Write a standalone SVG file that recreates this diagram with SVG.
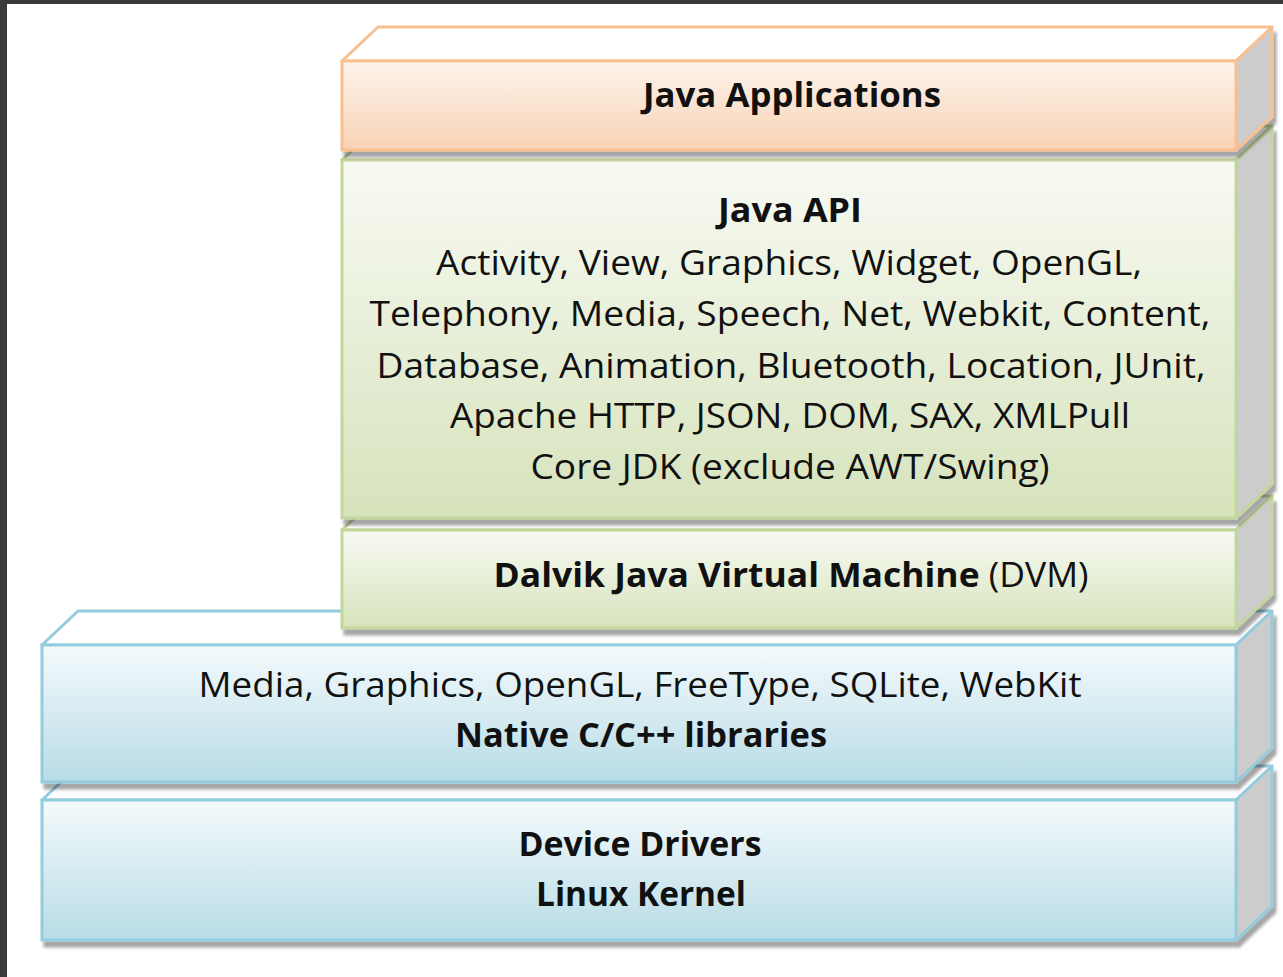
<svg xmlns="http://www.w3.org/2000/svg" width="1283" height="977" viewBox="0 0 1283 977">
<defs>
<linearGradient id="gOr" x1="0" y1="0" x2="0" y2="1"><stop offset="0" stop-color="#fdf3ec"/><stop offset="1" stop-color="#f8d3b5"/></linearGradient>
<linearGradient id="gGr" x1="0" y1="0" x2="0" y2="1"><stop offset="0" stop-color="#f8faf3"/><stop offset="1" stop-color="#d6e3bc"/></linearGradient>
<linearGradient id="gBl" x1="0" y1="0" x2="0" y2="1"><stop offset="0" stop-color="#f4fafc"/><stop offset="1" stop-color="#b8dce6"/></linearGradient>
<filter id="sh" x="-5%" y="-10%" width="110%" height="130%"><feDropShadow dx="3" dy="6" stdDeviation="1.5" flood-color="#000" flood-opacity="0.35"/></filter>
</defs>
<style>
.or{stroke:#f9bf8f}.gr{stroke:#c3d69b}.bl{stroke:#93cddd}
.top{fill:#ffffff;stroke-width:3;stroke-linejoin:round}
.side{fill:#cccccc;stroke-width:3;stroke-linejoin:round}
.front{stroke-width:3}
text{font-family:"Open Sans","Noto Sans","DejaVu Sans",sans-serif;font-size:34px;fill:#111;text-anchor:middle}
.b{font-weight:bold}
</style>
<rect x="0" y="0" width="1283" height="977" fill="#ffffff"/>
<rect x="0" y="0" width="1283" height="4" fill="#3a3a3a"/>
<rect x="0" y="0" width="7" height="977" fill="#3a3a3a"/>

<g id="device-drivers">
<polygon class="top bl" points="42,800 78,766 1272,766 1236,800"/>
<g filter="url(#sh)">
<polygon class="side bl" points="1236,800 1272,766 1272,906 1236,940"/>
<rect class="front bl" x="42" y="800" width="1194" height="140" fill="url(#gBl)"/>
</g>
<text class="b" x="640" y="856" textLength="243" lengthAdjust="spacingAndGlyphs">Device Drivers</text>
<text class="b" x="641" y="906" textLength="210" lengthAdjust="spacingAndGlyphs">Linux Kernel</text>
</g>

<g id="native-libs">
<polygon class="top bl" points="42,645 78,611 1272,611 1236,645"/>
<g filter="url(#sh)">
<polygon class="side bl" points="1236,645 1272,611 1272,748 1236,782"/>
<rect class="front bl" x="42" y="645" width="1194" height="137" fill="url(#gBl)"/>
</g>
<text x="640" y="697" textLength="883" lengthAdjust="spacingAndGlyphs">Media, Graphics, OpenGL, FreeType, SQLite, WebKit</text>
<text class="b" x="641" y="747" textLength="372" lengthAdjust="spacingAndGlyphs">Native C/C++ libraries</text>
</g>

<g id="dvm">
<polygon class="top gr" points="342,530 378,496 1272,496 1236,530"/>
<g filter="url(#sh)">
<polygon class="side gr" points="1236,530 1272,496 1272,594 1236,628"/>
<rect class="front gr" x="342" y="530" width="894" height="98" fill="url(#gGr)"/>
</g>
<text x="791" y="587" textLength="595" lengthAdjust="spacingAndGlyphs"><tspan class="b">Dalvik Java Virtual Machine</tspan> (DVM)</text>
</g>

<g id="java-api">
<polygon class="top gr" points="342,160 378,126 1272,126 1236,160"/>
<g filter="url(#sh)">
<polygon class="side gr" points="1236,160 1272,126 1272,484 1236,518"/>
<rect class="front gr" x="342" y="160" width="894" height="358" fill="url(#gGr)"/>
</g>
<text class="b" x="790" y="222" textLength="144" lengthAdjust="spacingAndGlyphs">Java API</text>
<text x="789" y="275" textLength="706" lengthAdjust="spacingAndGlyphs">Activity, View, Graphics, Widget, OpenGL,</text>
<text x="790" y="326" textLength="841" lengthAdjust="spacingAndGlyphs">Telephony, Media, Speech, Net, Webkit, Content,</text>
<text x="791" y="378" textLength="829" lengthAdjust="spacingAndGlyphs">Database, Animation, Bluetooth, Location, JUnit,</text>
<text x="790" y="428" textLength="680" lengthAdjust="spacingAndGlyphs">Apache HTTP, JSON, DOM, SAX, XMLPull</text>
<text x="790" y="479" textLength="519" lengthAdjust="spacingAndGlyphs">Core JDK (exclude AWT/Swing)</text>
</g>

<g id="java-apps">
<polygon class="top or" points="342,61 378,27 1272,27 1236,61"/>
<g filter="url(#sh)">
<polygon class="side or" points="1236,61 1272,27 1272,117 1236,150"/>
<rect class="front or" x="342" y="61" width="894" height="89" fill="url(#gOr)"/>
</g>
<text class="b" x="792" y="107" textLength="298" lengthAdjust="spacingAndGlyphs">Java Applications</text>
</g>

<g id="connectors"/>
</svg>
